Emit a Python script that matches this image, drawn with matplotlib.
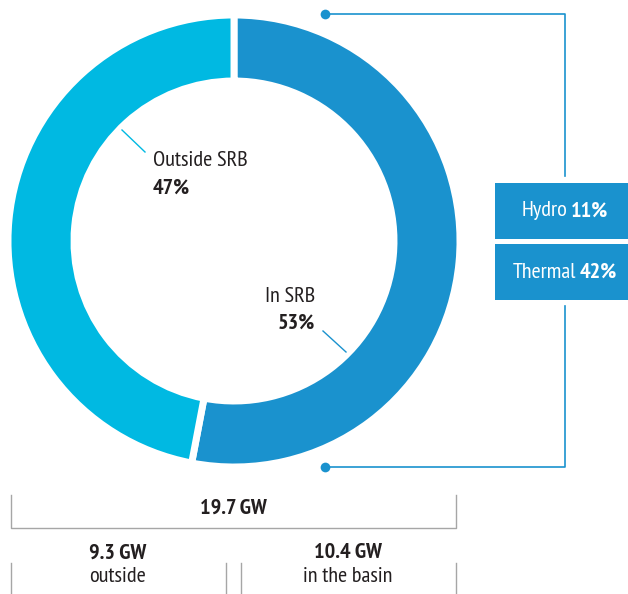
import matplotlib.pyplot as plt
from matplotlib.patches import Rectangle

plt.rcParams['font.family'] = ['PT Sans Narrow', 'DejaVu Sans']

# capacity split (GW) and shares
labels = ['In SRB', 'Outside SRB']
shares = [53, 47]
gw_basin = 10.4
gw_outside = 9.3
gw_total = 19.7
basin_mix = ['Hydro', 'Thermal']
basin_mix_pct = [11, 42]

DARK = '#1A92CE'
LIGHT = '#00B9E2'
GREY = '#A6A6A6'
TEXT = '#231F20'
FS = 16

W, H = 628, 594
fig = plt.figure(figsize=(W / 100, H / 100), dpi=100)
ax = fig.add_axes([0, 0, 1, 1])
ax.set_xlim(0, W)
ax.set_ylim(0, H)
ax.axis('off')


def Y(y):
    # work in top-down pixel coordinates
    return H - y


def two_part(x, y, plain, bold, color):
    # regular word followed by a bold figure, centred as one line
    r = fig.canvas.get_renderer()
    t1 = ax.text(0, Y(y), plain, fontsize=FS, color=color, va='center')
    t2 = ax.text(0, Y(y), bold, fontsize=FS, color=color, va='center', fontweight='bold')
    gap = 4
    w1 = t1.get_window_extent(r).width
    w2 = t2.get_window_extent(r).width
    x0 = x - (w1 + gap + w2) / 2
    t1.set_x(x0)
    t2.set_x(x0 + w1 + gap)


cx, cy, r_out, ring = 234, 241, 226, 66
ax.pie(shares, colors=[DARK, LIGHT], startangle=90, counterclock=False,
       center=(cx, Y(cy)), radius=r_out,
       wedgeprops=dict(width=ring, edgecolor='white', linewidth=5))
ax.set_xlim(0, W)
ax.set_ylim(0, H)
ax.set_aspect('auto')

# labels inside the ring
ax.text(153, Y(161), labels[1], fontsize=FS, color=TEXT, ha='left', va='center')
ax.text(153, Y(188), f'{shares[1]}%', fontsize=FS, color=TEXT, ha='left', va='center',
        fontweight='bold')
ax.text(315, Y(296), labels[0], fontsize=FS, color=TEXT, ha='right', va='center')
ax.text(315, Y(323), f'{shares[0]}%', fontsize=FS, color=TEXT, ha='right', va='center',
        fontweight='bold')
ax.plot([122, 145], [Y(130), Y(152)], color=LIGHT, lw=1)
ax.plot([323, 346], [Y(331), Y(352)], color=DARK, lw=1)

# bracket linking the basin slice to its breakdown
ax.plot([325, 565, 565], [Y(14), Y(14), Y(176)], color=DARK, lw=1.2)
ax.plot([565, 565, 325], [Y(306), Y(467), Y(467)], color=DARK, lw=1.2)
ax.plot([325, 325], [Y(14), Y(467)], 'o', color=DARK, ms=7, mec='none')

box_top = [183, 244]
box_h = 56
for name, pct, top in zip(basin_mix, basin_mix_pct, box_top):
    ax.add_patch(Rectangle((495, Y(top + box_h)), 140, box_h, color=DARK, lw=0))
    two_part(565, top + box_h / 2, name, f'{pct}%', 'white')

# totals underneath
ax.plot([11, 11, 456, 456], [Y(495), Y(528), Y(528), Y(495)], color=GREY, lw=1)
ax.text(233, Y(508), f'{gw_total} GW', fontsize=FS, fontweight='bold', color=TEXT,
        ha='center', va='center')
for x in [11, 226, 241, 456]:
    ax.plot([x, x], [Y(563), Y(594)], color=GREY, lw=1)
ax.text(118, Y(553), f'{gw_outside} GW', fontsize=FS, fontweight='bold', color=TEXT,
        ha='center', va='center')
ax.text(118, Y(577), 'outside', fontsize=FS, color=TEXT, ha='center', va='center')
ax.text(348, Y(553), f'{gw_basin} GW', fontsize=FS, fontweight='bold', color=TEXT,
        ha='center', va='center')
ax.text(348, Y(577), 'in the basin', fontsize=FS, color=TEXT, ha='center', va='center')

fig.savefig('out.png', dpi=100)
